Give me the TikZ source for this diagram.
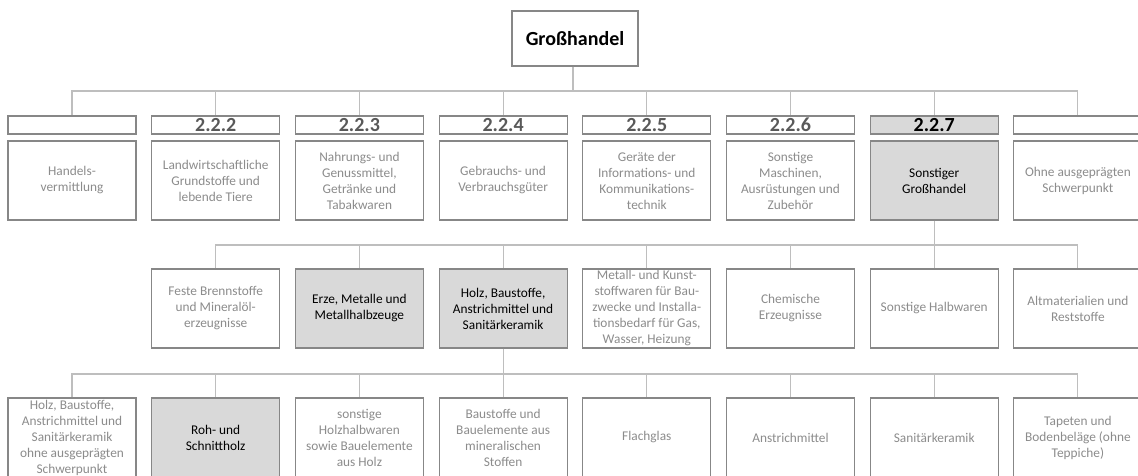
\documentclass[tikz,border=0pt]{standalone}
\usepackage{fontspec}
\setmainfont{Carlito}
\definecolor{boxline}{RGB}{135,135,135}
\definecolor{linkline}{RGB}{190,190,190}
\definecolor{softtext}{RGB}{140,140,140}
\definecolor{numtext}{RGB}{89,89,89}
\definecolor{hlfill}{RGB}{217,217,217}
\tikzset{
  catbox/.style={draw=boxline, line width=0.8pt, fill=white, minimum width=96pt,
    minimum height=59.25pt, inner sep=1pt, align=center, text=softtext,
    font=\fontsize{10}{12}\selectfont},
  hl/.style={fill=hlfill, text=black},
  numbox/.style={draw=boxline, line width=0.8pt, fill=white, minimum width=96pt,
    minimum height=13.5pt, inner sep=0pt, text=numtext, text height=10pt, text depth=1pt,
    font=\fontsize{15}{16}\selectfont\bfseries},
  rootbox/.style={draw=boxline, line width=0.8pt, fill=white, minimum width=94.5pt,
    minimum height=41.25pt, inner sep=0pt, text=black,
    font=\fontsize{15}{16}\selectfont\bfseries},
  link/.style={draw=linkline, line width=0.8pt}
}
\begin{document}
\begin{tikzpicture}[x=0.75pt,y=-0.75pt]
\fill[white] (0,0) rectangle (1138,475);
\useasboundingbox (0,0) rectangle (1138,475);

% root
\node[rootbox] (root) at (575,38.5) {Großhandel};

% first level: number boxes and category boxes
\node[numbox] (n1) at (72,125) {};
\node[numbox] (n2) at (215.7,125) {2.2.2};
\node[numbox] (n3) at (359.4,125) {2.2.3};
\node[numbox] (n4) at (503.1,125) {2.2.4};
\node[numbox] (n5) at (646.8,125) {2.2.5};
\node[numbox] (n6) at (790.5,125) {2.2.6};
\node[numbox,fill=hlfill,text=black] (n7) at (934.2,125) {2.2.7};
\node[numbox] (n8) at (1077.9,125) {};

\node[catbox] (a1) at (72,180.5) {Handels-\\vermittlung};
\node[catbox] (a2) at (215.7,180.5) {Landwirtschaftliche\\Grundstoffe und\\lebende Tiere};
\node[catbox] (a3) at (359.4,180.5) {Nahrungs- und\\Genussmittel,\\Getränke und\\Tabakwaren};
\node[catbox] (a4) at (503.1,180.5) {Gebrauchs- und\\Verbrauchsgüter};
\node[catbox] (a5) at (646.8,180.5) {Geräte der\\Informations- und\\Kommunikations-\\technik};
\node[catbox] (a6) at (790.5,180.5) {Sonstige\\Maschinen,\\Ausrüstungen und\\Zubehör};
\node[catbox,hl] (a7) at (934.2,180.5) {Sonstiger\\Großhandel};
\node[catbox] (a8) at (1077.9,180.5) {Ohne ausgeprägten\\Schwerpunkt};

% second level
\node[catbox] (b2) at (215.7,308.5) {Feste Brennstoffe\\und Mineralöl-\\erzeugnisse};
\node[catbox,hl] (b3) at (359.4,308.5) {Erze, Metalle und\\Metallhalbzeuge};
\node[catbox,hl] (b4) at (503.1,308.5) {Holz, Baustoffe,\\Anstrichmittel und\\Sanitärkeramik};
\node[catbox,inner ysep=0pt] (b5) at (646.8,308.5) {Metall- und Kunst-\\stoffwaren für Bau-\\zwecke und Installa-\\tionsbedarf für Gas,\\Wasser, Heizung};
\node[catbox] (b6) at (790.5,308.5) {Chemische\\Erzeugnisse};
\node[catbox] (b7) at (934.2,308.5) {Sonstige Halbwaren};
\node[catbox] (b8) at (1077.9,308.5) {Altmaterialien und\\Reststoffe};

% third level
\node[catbox,inner ysep=0pt] (c1) at (72,437.5) {Holz, Baustoffe,\\Anstrichmittel und\\Sanitärkeramik\\ohne ausgeprägten\\Schwerpunkt};
\node[catbox,hl] (c2) at (215.7,437.5) {Roh- und\\Schnittholz};
\node[catbox] (c3) at (359.4,437.5) {sonstige\\Holzhalbwaren\\sowie Bauelemente\\aus Holz};
\node[catbox] (c4) at (503.1,437.5) {Baustoffe und\\Bauelemente aus\\mineralischen\\Stoffen};
\node[catbox] (c5) at (646.8,437.5) {Flachglas};
\node[catbox] (c6) at (790.5,437.5) {Anstrichmittel};
\node[catbox] (c7) at (934.2,437.5) {Sanitärkeramik};
\node[catbox] (c8) at (1077.9,437.5) {Tapeten und\\Bodenbeläge (ohne\\Teppiche)};

% bus points of the three branchings
\coordinate (bus1) at (573,91);
\coordinate (bus2) at (934.2,245);
\coordinate (bus3) at (503.1,374);

\draw[link] (root.south -| bus1) -- (bus1);
\foreach \n in {n1,n2,n3,n4,n5,n6,n7,n8}
  \draw[link] (bus1) -| (\n.north);
\draw[link] (a7.south) -- (bus2);
\foreach \n in {b2,b3,b4,b5,b6,b7,b8}
  \draw[link] (bus2) -| (\n.north);
\draw[link] (b4.south) -- (bus3);
\foreach \n in {c1,c2,c3,c4,c5,c6,c7,c8}
  \draw[link] (bus3) -| (\n.north);
\end{tikzpicture}
\end{document}
